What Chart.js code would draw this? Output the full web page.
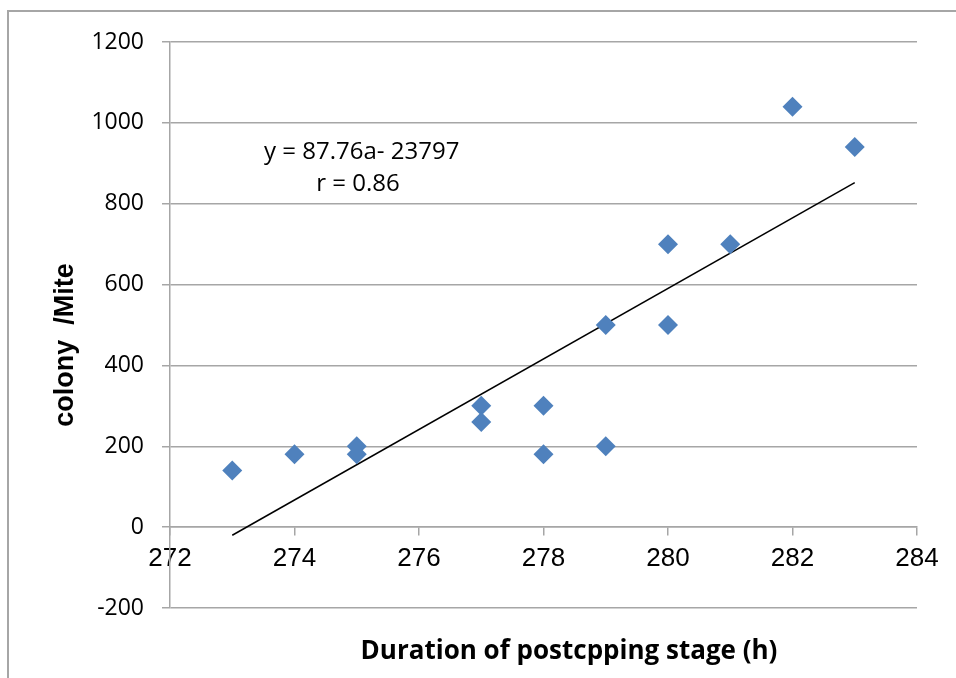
<!DOCTYPE html>
<html>
<head>
<meta charset="utf-8">
<script src="https://cdn.jsdelivr.net/npm/chart.js@4.4.1/dist/chart.umd.min.js"></script>
<style>
    html, body { margin: 0; padding: 0; background: #fff; }
    #wrap { position: relative; width: 956px; height: 678px; overflow: hidden; }
    /* marco del gráfico (solo lados izquierdo y superior visibles) */
    #frame { position: absolute; left: 7px; top: 10px; width: 1000px; height: 700px;
             border-left: 2px solid #a6a6a6; border-top: 2px solid #a6a6a6; }
    #chart { position: absolute; left: 0; top: 0; }
</style>
</head>
<body>
<div id="wrap">
    <div id="frame"></div>
    <canvas id="chart" width="956" height="678"></canvas>
</div>
<script>
// Datos
const hours = [273, 274, 275, 275, 277, 277, 278, 278, 279, 279, 280, 280, 281, 282, 283];
const colonies = [140, 180, 200, 180, 300, 260, 300, 180, 500, 200, 700, 500, 700, 1040, 940];

// Línea de tendencia (extremos)
const trendX = [273, 283];
const trendY = [-20, 852];

const xTicks = [272, 274, 276, 278, 280, 282, 284];
const yTicks = [-200, 0, 200, 400, 600, 800, 1000, 1200];

const xTitle = 'Duration of postcpping stage (h)';
const yTitle = 'colony  /Mite';
const equationLines = ["y = 87.76a- 23797", "r = 0.86"];
const equationPos = [{ x: 275.08, y: 928 }, { x: 275.02, y: 848 }];

const gridColor = '#a6a6a6';

// Títulos de ejes y texto de la ecuación
const labelsPlugin = {
    id: 'labels',
    afterDatasetsDraw(chart) {
        const ctx = chart.ctx;
        const xs = chart.scales.x, ys = chart.scales.y;
        ctx.save();
        ctx.fillStyle = '#000';
        ctx.textAlign = 'center';
        ctx.textBaseline = 'middle';

        ctx.font = '24px "Open Sans"';
        equationLines.forEach((txt, i) => {
            ctx.fillText(txt, xs.getPixelForValue(equationPos[i].x), ys.getPixelForValue(equationPos[i].y));
        });

        ctx.font = 'bold 26px "Open Sans"';
        ctx.fillText(xTitle, 569, 652);

        ctx.translate(66, 345);
        ctx.rotate(-Math.PI / 2);
        ctx.font = 'bold 27px "Liberation Sans"';
        ctx.fillText(yTitle, 0, 0);
        ctx.restore();
    }
};

new Chart(document.getElementById('chart'), {
    type: 'scatter',
    data: {
        datasets: [{
            data: hours.map((h, i) => ({ x: h, y: colonies[i] })),
            pointStyle: 'rectRot',
            pointRadius: 10,
            pointHoverRadius: 10,
            backgroundColor: '#4f81bd',
            borderColor: '#4f81bd',
            borderWidth: 0
        }, {
            type: 'line',
            data: trendX.map((x, i) => ({ x: x, y: trendY[i] })),
            borderColor: '#000',
            borderWidth: 1.5,
            pointRadius: 0,
            fill: false
        }]
    },
    options: {
        responsive: false,
        animation: false,
        layout: { padding: { left: 0, right: 39, top: 42, bottom: 70 } },
        plugins: {
            legend: { display: false },
            tooltip: { enabled: false }
        },
        scales: {
            x: {
                type: 'linear',
                position: { y: 0 },
                min: 272,
                max: 284,
                afterBuildTicks: (scale) => { scale.ticks = xTicks.map(v => ({ value: v })); },
                ticks: {
                    color: '#000',
                    font: { family: '"Liberation Sans"', size: 26 },
                    padding: 8,
                    maxRotation: 0,
                    autoSkip: false
                },
                grid: { drawOnChartArea: false, drawTicks: true, tickLength: 8, color: gridColor, lineWidth: 1.5 },
                border: { display: true, color: gridColor, width: 1.5 }
            },
            y: {
                min: -200,
                max: 1200,
                afterBuildTicks: (scale) => { scale.ticks = yTicks.map(v => ({ value: v })); },
                afterFit: (scale) => { scale.width = 170; },
                ticks: {
                    color: '#000',
                    font: { family: '"Open Sans"', size: 23 },
                    padding: 18,
                    callback: (v) => String(v)
                },
                grid: { color: gridColor, lineWidth: 1.5, tickLength: 8 },
                border: { display: true, color: gridColor, width: 1.5 }
            }
        }
    },
    plugins: [labelsPlugin]
});
</script>
</body>
</html>
